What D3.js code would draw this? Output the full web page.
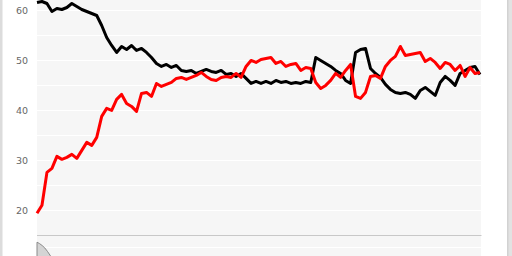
<!DOCTYPE html>
<html>
<head>
<meta charset="utf-8">
<script src="https://cdn.jsdelivr.net/npm/d3@7"></script>
<style>
  html, body { margin: 0; padding: 0; background: #fff; }
  svg { display: block; }
  .tick text { font-family: "DejaVu Sans", sans-serif; font-size: 9.5px; fill: #666; }
</style>
</head>
<body>
<div id="chart"></div>
<script>
// valeurs (index régulier, pas de dates visibles)
var serieNoire = [61.6, 61.8, 61.4, 59.8, 60.4, 60.2, 60.6, 61.4, 60.8, 60.2,
  59.8, 59.4, 59.0, 57.0, 54.6, 53.0, 51.6, 52.8, 52.2, 53.0,
  52.0, 52.4, 51.6, 50.6, 49.4, 48.8, 49.2, 48.6, 49.0, 48.0,
  47.8, 48.0, 47.4, 47.8, 48.2, 47.8, 47.6, 48.0, 47.2, 47.4,
  46.8, 47.4, 46.4, 45.4, 45.8, 45.4, 45.8, 45.4, 46.0, 45.6,
  45.8, 45.4, 45.6, 45.4, 45.8, 45.6, 50.6, 50.0, 49.4, 48.8,
  48.0, 47.4, 46.0, 45.4, 51.6, 52.2, 52.4, 48.4, 47.4, 46.6,
  45.2, 44.2, 43.6, 43.4, 43.6, 43.2, 42.4, 44.0, 44.6, 43.8,
  43.0, 45.6, 46.8, 46.0, 45.0, 47.4, 48.0, 48.6, 48.8, 47.2];

var serieRouge = [19.4, 21.0, 27.6, 28.4, 30.8, 30.2, 30.6, 31.2, 30.4, 32.0,
  33.6, 33.0, 34.6, 38.8, 40.4, 40.0, 42.2, 43.2, 41.4, 40.8,
  39.8, 43.4, 43.6, 42.8, 45.4, 44.8, 45.2, 45.6, 46.4, 46.6,
  46.2, 46.6, 47.0, 47.6, 46.8, 46.2, 46.0, 46.6, 46.8, 46.6,
  47.4, 46.6, 48.8, 50.0, 49.6, 50.2, 50.4, 50.6, 49.4, 49.8,
  48.8, 49.2, 49.4, 48.0, 48.6, 48.4, 45.6, 44.4, 45.0, 46.0,
  47.4, 46.6, 48.0, 49.2, 42.8, 42.4, 43.6, 46.8, 47.0, 46.4,
  48.8, 50.0, 50.8, 52.8, 51.0, 51.2, 51.4, 51.6, 49.8, 50.4,
  49.6, 48.4, 49.6, 49.2, 48.0, 49.0, 46.8, 48.6, 47.4, 47.6];

// petit panneau du bas (navigateur), on n'en voit que le haut
var serieBas = [17.0, 16.4, 15.6, 14.6, 13.2, 11.6, 10.2, 9.0];

var ticksHaut = [20, 25, 30, 35, 40, 45, 50, 55, 60];
var labelsHaut = [20, 30, 40, 50, 60];
var ticksBas = [10, 15];

var width = 512, height = 256;
var gauche = 37, droite = 481;

var svg = d3.select("#chart").append("svg")
    .attr("width", width)
    .attr("height", height);

// bordures grises gauche / droite
svg.append("rect").attr("x", 0).attr("y", 0).attr("width", 2.5).attr("height", height).attr("fill", "#dcdcdc");
svg.append("rect").attr("x", 507).attr("y", 0).attr("width", 5).attr("height", height).attr("fill", "#e2e2e2");
svg.append("rect").attr("x", 507).attr("y", 0).attr("width", 1.5).attr("height", height).attr("fill", "#d2d2d2");

// fond du graphe
svg.append("rect")
    .attr("x", gauche).attr("y", 0)
    .attr("width", droite - gauche).attr("height", height)
    .attr("fill", "#f6f6f6");

var x = d3.scaleLinear()
    .domain([0, serieNoire.length - 1])
    .range([gauche, 480]);

var y = d3.scaleLinear()
    .domain([15, 62.1])
    .range([235.3, 0]);

var yBas = d3.scaleLinear()
    .domain([10, 15])
    .range([259, 247]);

// grille blanche
svg.append("g")
    .selectAll("line")
    .data(ticksHaut)
    .enter().append("line")
    .attr("x1", gauche).attr("x2", droite)
    .attr("y1", function(d) { return Math.round(y(d)) + 0.5; })
    .attr("y2", function(d) { return Math.round(y(d)) + 0.5; })
    .attr("stroke", "#ffffff")
    .attr("stroke-width", 1.2);

svg.append("g")
    .selectAll("line")
    .data(ticksBas)
    .enter().append("line")
    .attr("x1", gauche).attr("x2", droite)
    .attr("y1", function(d) { return Math.round(yBas(d)) + 0.5; })
    .attr("y2", function(d) { return Math.round(yBas(d)) + 0.5; })
    .attr("stroke", "#ffffff")
    .attr("stroke-width", 1.2);

// axe gauche (labels seulement)
var axeY = svg.append("g")
    .attr("transform", "translate(" + 28 + ",0)")
    .call(d3.axisLeft(y).tickValues(labelsHaut).tickSize(0).tickPadding(0));
axeY.select(".domain").remove();

var axeBas = svg.append("g")
    .attr("transform", "translate(" + 28 + ",0)")
    .call(d3.axisLeft(yBas).tickValues([10]).tickSize(0).tickPadding(0));
axeBas.select(".domain").remove();

// aire du bas
var aire = d3.area()
    .x(function(d, i) { return gauche + i * 2.6; })
    .y0(height + 5)
    .y1(function(d) { return yBas(d); });

svg.append("path")
    .datum(serieBas)
    .attr("d", aire)
    .attr("fill", "#d4d4d4")
    .attr("stroke", "#8a8a8a")
    .attr("stroke-width", 1);

// ligne de séparation
svg.append("line")
    .attr("x1", gauche).attr("x2", droite + 0.5)
    .attr("y1", 235.5).attr("y2", 235.5)
    .attr("stroke", "#c8c8c8")
    .attr("stroke-width", 1);

var ligne = d3.line()
    .x(function(d, i) { return x(i); })
    .y(function(d) { return y(d); });

svg.append("path")
    .datum(serieNoire)
    .attr("d", ligne)
    .attr("fill", "none")
    .attr("stroke", "#000")
    .attr("stroke-width", 3)
    .attr("stroke-linejoin", "round");

svg.append("path")
    .datum(serieRouge)
    .attr("d", ligne)
    .attr("fill", "none")
    .attr("stroke", "#ff0000")
    .attr("stroke-width", 3)
    .attr("stroke-linejoin", "round");
</script>
</body>
</html>
